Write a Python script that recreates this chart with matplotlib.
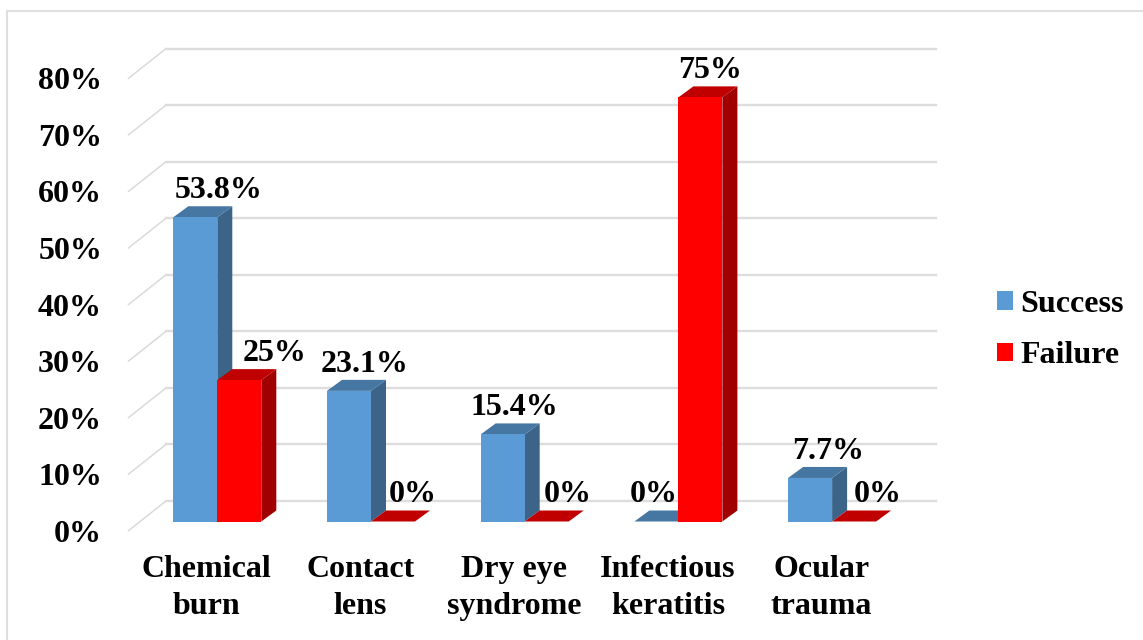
#!/usr/bin/env python3
# faux 3D clustered columns (front faces are bars, sides and tops are added polygons)
import numpy as np
import matplotlib
matplotlib.use("Agg")
import matplotlib.pyplot as plt
from matplotlib.lines import Line2D

categories = ["Chemical\nburn", "Contact\nlens", "Dry eye\nsyndrome", "Infectious\nkeratitis", "Ocular\ntrauma"]
success = [53.8, 23.1, 15.4, 0, 7.7]
failure = [25, 0, 0, 75, 0]
y_ticks = [0, 10, 20, 30, 40, 50, 60, 70, 80]

# layout, all in pixels of the 1143x640 picture
W, H = 1143, 640
LEFT, RIGHT, TOP, BOTTOM = 128.5, 935.7, 48.7, 530.7
GROUP_STEP = 153.7
FIRST_GROUP = 217.3
PX_PER_PCT = 5.655
BASE_Y = 521.5
DEPTH_X, DEPTH_Y = 15 / GROUP_STEP, 11 / PX_PER_PCT
BAR_W = 44 / GROUP_STEP
FS = 23
PX = 0.72  # pixel -> point at dpi 100

# horizontal nudge of each data label from the bar centre
nudge_success = [23, 16, 11.5, -3, 18]
nudge_failure = [35, 19.5, 21.5, 10, 24]

plt.rcParams["font.family"] = ["Liberation Serif", "DejaVu Serif"]
plt.rcParams["font.weight"] = "bold"

fig = plt.figure(figsize=(W / 100, H / 100), dpi=100, facecolor="white")
ax = fig.add_axes([LEFT / W, 1 - BOTTOM / H, (RIGHT - LEFT) / W, (BOTTOM - TOP) / H])
ax.set_xlim((LEFT - FIRST_GROUP) / GROUP_STEP, (RIGHT - FIRST_GROUP) / GROUP_STEP)
ax.set_ylim((BASE_Y - BOTTOM) / PX_PER_PCT, (BASE_Y - TOP) / PX_PER_PCT)
for s in ax.spines.values():
    s.set_visible(False)

# outer frame, open to the right and bottom edges of the picture
fig.add_artist(Line2D([7 / W, 7 / W, 1], [0, 1 - 10.5 / H, 1 - 10.5 / H], color="#DFDFDF", lw=1.5))

# gridlines: a slanted bit on the side wall, then along the back wall
y0 = ax.get_ylim()[0]
back_x = (166 - FIRST_GROUP) / GROUP_STEP
back_off = (BASE_Y - 501) / PX_PER_PCT
xmin, xmax = ax.get_xlim()
for t in y_ticks:
    ax.plot([xmin, back_x], [y0 + t, back_off + t], color="#DADADA", lw=1.1, zorder=1, clip_on=False)
    ax.plot([back_x, xmax], [back_off + t, back_off + t], color="#DDDDDD", lw=1.7, zorder=1, clip_on=False)


def draw_series(x, vals, front, side, top, label, z):
    ax.bar(x, vals, width=BAR_W, color=front, label=label, zorder=z + 0.2)
    for xi, v in zip(x, vals):
        r = xi + BAR_W / 2
        l = xi - BAR_W / 2
        ax.fill([r, r + DEPTH_X, r + DEPTH_X, r], [0, DEPTH_Y, v + DEPTH_Y, v], color=side, lw=0, zorder=z)
        ax.fill([l, l + DEPTH_X, r + DEPTH_X, r], [v, v + DEPTH_Y, v + DEPTH_Y, v], color=top, lw=0, zorder=z + 0.1)


x = np.arange(len(categories))
draw_series(x - BAR_W / 2, success, "#5B9BD5", "#3B6488", "#4676A2", "Success", 2)
draw_series(x + BAR_W / 2, failure, "#FF0000", "#A00000", "#C00000", "Failure", 3)

# data labels
for xi, v, n in zip(x - BAR_W / 2, success, nudge_success):
    ax.annotate(f"{v:g}%", (xi, v), xytext=(n * PX, 26.5 * PX), textcoords="offset points",
                ha="center", va="center", fontsize=FS, zorder=5, annotation_clip=False)
for xi, v, n in zip(x + BAR_W / 2, failure, nudge_failure):
    ax.annotate(f"{v:g}%", (xi, v), xytext=(n * PX, 26.5 * PX), textcoords="offset points",
                ha="center", va="center", fontsize=FS, zorder=5, annotation_clip=False)

ax.set_yticks([y0 + t for t in y_ticks])
ax.set_yticklabels([f"{t}%" for t in y_ticks], fontsize=FS)
ax.set_xticks(x - 10.6 / GROUP_STEP)
ax.set_xticklabels(categories, fontsize=FS, linespacing=1.38)
ax.tick_params(axis="y", length=0, pad=19)
ax.tick_params(axis="x", length=0, pad=17.5)

ax.legend(loc="center left", bbox_to_anchor=(997 / W, 1 - 330 / H), bbox_transform=fig.transFigure,
          frameon=False, fontsize=FS, handlelength=0.5, handleheight=0.5, handletextpad=0.22,
          labelspacing=0.7, borderpad=0, borderaxespad=0)

fig.savefig("out.png", dpi=100)
